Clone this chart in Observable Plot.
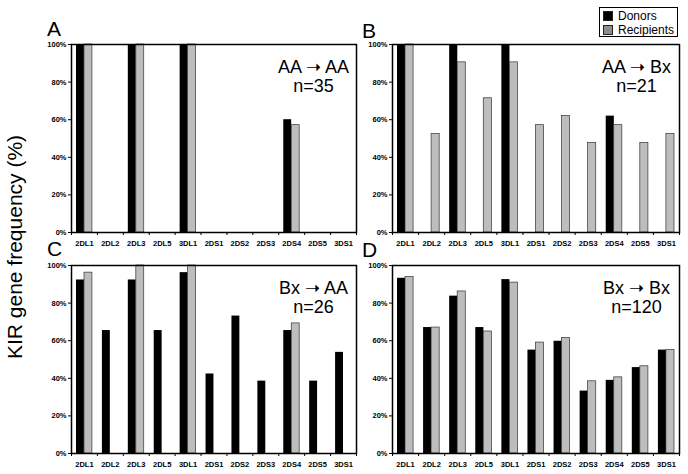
<!DOCTYPE html>
<html>
<head>
<meta charset="utf-8">
<script src="https://cdn.jsdelivr.net/npm/d3@7"></script>
<script src="https://cdn.jsdelivr.net/npm/@observablehq/plot@0.6"></script>
<style>
  body { margin: 0; background: white; }
  #root { position: relative; width: 688px; height: 474px; overflow: hidden; background: white; font-family: "Liberation Sans", Arial, sans-serif; }
  .letter { position: absolute; font-size: 21px; line-height: 17px; color: black; }
  #ytitle { position: absolute; left: 15px; top: 247px; transform: translate(-50%, -50%) rotate(-90deg); white-space: nowrap; font-size: 21px; }
  #legend { position: absolute; left: 599px; top: 7px; width: 79px; height: 30px; border: 1px solid black; box-sizing: border-box; font-size: 12px; }
  .lrow { position: absolute; left: 3px; display: flex; align-items: center; height: 13px; }
  .sw { width: 10px; height: 10px; border: 1px solid #222; box-sizing: border-box; margin-right: 5px; }
</style>
</head>
<body>
<div id="root"></div>
<script>
const categories = ["2DL1","2DL2","2DL3","2DL5","3DL1","2DS1","2DS2","2DS3","2DS4","2DS5","3DS1"];
const donorsA     = [100, 0, 100, 0, 100, 0, 0, 0, 60.0, 0, 0];
const recipientsA = [100, 0, 100, 0, 100, 0, 0, 0, 57.1, 0, 0];
const donorsB     = [100, 0, 100, 0, 100, 0, 0, 0, 61.9, 0, 0];
const recipientsB = [100, 52.4, 90.5, 71.4, 90.5, 57.1, 61.9, 47.6, 57.1, 47.6, 52.4];
const donorsC     = [92.3, 65.4, 92.3, 65.4, 96.2, 42.3, 73.1, 38.5, 65.4, 38.5, 53.8];
const recipientsC = [96.2, 0, 100, 0, 100, 0, 0, 0, 69.2, 0, 0];
const donorsD     = [93.2, 67.0, 83.7, 67.0, 92.5, 55.0, 59.7, 33.2, 38.9, 45.7, 55.0];
const recipientsD = [93.9, 67.0, 86.2, 64.9, 90.9, 59.0, 61.5, 38.4, 40.5, 46.4, 55.0];
const yTicks = [0, 20, 40, 60, 80, 100];
const panelLetters = ["A", "B", "C", "D"];
const transitions = ["AA \u279D AA", "AA \u279D Bx", "Bx \u279D AA", "Bx \u279D Bx"];
const sizes = ["n=35", "n=21", "n=26", "n=120"];
const seriesNames = ["Donors", "Recipients"];

const root = document.getElementById("root");

function panel(donors, recips, title, n, opts) {
  const rows = categories.map((c, i) => ({cat: c, i, donor: donors[i], recip: recips[i]}));
  const annot = {frameAnchor: "top-right", dx: -43, textAnchor: "middle", lineAnchor: "bottom", fontSize: 18, fontFamily: "'Liberation Sans', Arial, sans-serif", fontWeight: "normal", fill: "black"};
  const fig = Plot.plot({
    width: opts.width, height: opts.height,
    marginLeft: opts.ml, marginRight: opts.mr, marginTop: opts.mt, marginBottom: opts.mb,
    x: {domain: [0, categories.length], axis: null, label: null},
    y: {domain: [0, 100], axis: null, label: null},
    style: {fontFamily: "'Liberation Sans Narrow', 'Liberation Sans', Arial, sans-serif", fontSize: "7.5px", fontWeight: "bold", background: "transparent", overflow: "visible"},
    marks: [
      Plot.rectY(rows.filter(d => d.donor > 0), {x1: "i", x2: d => d.i + 1, y: "donor", fill: "black", insetLeft: 5, insetRight: 13}),
      Plot.rectY(rows.filter(d => d.recip > 0), {x1: "i", x2: d => d.i + 1, y: "recip", fill: "#bdbdbd", stroke: "#333", strokeWidth: 0.7, insetLeft: 13, insetRight: 5}),
      Plot.axisY({ticks: yTicks, tickFormat: d => d + "%", tickSize: 3, tickPadding: 2, label: null}),
      Plot.axisX({ticks: d3.range(categories.length + 1), tickFormat: () => "", tickSize: 3, label: null}),
      Plot.axisX({ticks: categories.map((c, i) => i + 0.5), tickFormat: v => categories[Math.floor(v)], tickSize: 0, tickPadding: 8, label: null}),
      Plot.frame({stroke: "black", strokeWidth: 1.5}),
      Plot.text([title], {...annot, text: d => d, dy: 28}),
      Plot.text([n], {...annot, text: d => d, dy: 47})
    ]
  });
  fig.style.position = "absolute";
  fig.style.left = opts.left + "px";
  fig.style.top = opts.top + "px";
  root.appendChild(fig);
}

panel(donorsA, recipientsA, transitions[0], sizes[0], {left: 0, top: 30, width: 360, height: 222, ml: 71, mr: 4, mt: 14, mb: 20});
panel(donorsB, recipientsB, transitions[1], sizes[1], {left: 320, top: 30, width: 368, height: 222, ml: 72, mr: 9, mt: 14, mb: 20});
panel(donorsC, recipientsC, transitions[2], sizes[2], {left: 0, top: 252, width: 360, height: 222, ml: 71, mr: 4, mt: 13, mb: 21});
panel(donorsD, recipientsD, transitions[3], sizes[3], {left: 320, top: 252, width: 368, height: 222, ml: 72, mr: 9, mt: 13, mb: 21});

// panel letters
const letterPos = [[47, 20], [362, 22], [47, 240], [362, 241]];
panelLetters.forEach((L, k) => {
  const d = document.createElement("div");
  d.className = "letter";
  d.textContent = L;
  d.style.left = letterPos[k][0] + "px";
  d.style.top = letterPos[k][1] + "px";
  root.appendChild(d);
});

// y title
const yt = document.createElement("div");
yt.id = "ytitle";
yt.textContent = "KIR gene frequency (%)";
root.appendChild(yt);

// legend
const lg = document.createElement("div");
lg.id = "legend";
const swColors = ["#000000", "#8c8c8c"];
seriesNames.forEach((s, k) => {
  const r = document.createElement("div");
  r.className = "lrow";
  r.style.top = (1 + k * 14.5) + "px";
  const sw = document.createElement("div");
  sw.className = "sw";
  sw.style.background = swColors[k];
  const t = document.createElement("span");
  t.textContent = s;
  r.appendChild(sw); r.appendChild(t);
  lg.appendChild(r);
});
root.appendChild(lg);
</script>
</body>
</html>
